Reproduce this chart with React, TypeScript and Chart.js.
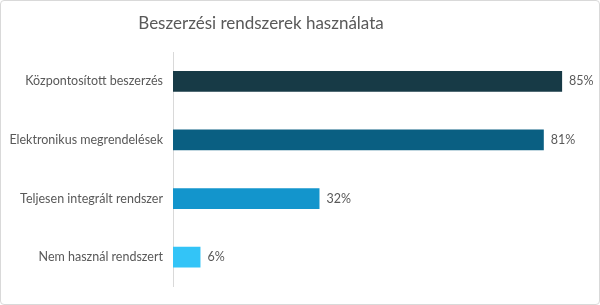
import React, { useEffect, useRef } from "react";
import { Chart, registerables } from "chart.js";

Chart.register(...registerables);

const title = "Beszerzési rendszerek használata";
const categories = [
  "Központosított beszerzés",
  "Elektronikus megrendelések",
  "Teljesen integrált rendszer",
  "Nem használ rendszert",
];
const values = [85, 81, 32, 6];
const barColors = ["#173a46", "#0a5f82", "#1395cc", "#33c4f7"];
const FONT = "Lato, sans-serif";
const TEXT = "#595959";

export default function App() {
  const ref = useRef<HTMLCanvasElement | null>(null);
  useEffect(() => {
    if (!ref.current) return;
    const titlePlugin = {
      id: "titleText",
      afterDraw(chart: any) {
        const ctx = chart.ctx;
        ctx.save();
        ctx.fillStyle = TEXT;
        ctx.font = `17px ${FONT}`;
        ctx.textAlign = "center";
        ctx.textBaseline = "middle";
        ctx.fillText(title, 260, 23);
        ctx.restore();
      },
    };
    const labelPlugin = {
      id: "barLabels",
      afterDatasetsDraw(chart: any) {
        const ctx = chart.ctx;
        const meta = chart.getDatasetMeta(0);
        ctx.save();
        ctx.fillStyle = TEXT;
        ctx.font = `12.5px ${FONT}`;
        ctx.textAlign = "left";
        ctx.textBaseline = "middle";
        meta.data.forEach((el: any, i: number) => {
          ctx.fillText(values[i] + "%", el.x + 7, el.y);
        });
        ctx.restore();
      },
    };
    const chart = new Chart(ref.current, {
      type: "bar",
      data: {
        labels: categories,
        datasets: [
          {
            data: values,
            backgroundColor: barColors,
            categoryPercentage: 1,
            barPercentage: 0.355,
          },
        ],
      },
      options: {
        indexAxis: "y",
        animation: false,
        responsive: false,
        maintainAspectRatio: false,
        layout: { padding: { top: 51, bottom: 15, left: 0, right: 14 } },
        plugins: {
          legend: { display: false },
          tooltip: { enabled: false },
          title: { display: false },
        },
        scales: {
          x: {
            min: 0,
            max: 90,
            display: false,
          },
          y: {
            afterFit(scale: any) {
              scale.width = 172;
            },
            grid: { display: false, drawTicks: false },
            border: { display: true, color: "#d9d9d9", width: 1 },
            ticks: {
              color: TEXT,
              font: { family: FONT, size: 12.5 },
              padding: 10,
            },
          },
        },
      },
      plugins: [titlePlugin, labelPlugin],
    });
    return () => chart.destroy();
  }, []);
  return (
    <div
      style={{
        position: "fixed",
        left: 0,
        top: 0,
        width: 600,
        height: 305,
        boxSizing: "border-box",
        border: "1px solid #d9d9d9",
        borderRadius: 4,
        background: "#fff",
        overflow: "hidden",
      }}
    >
      <canvas ref={ref} width={598} height={303} style={{ display: "block" }} />
    </div>
  );
}
